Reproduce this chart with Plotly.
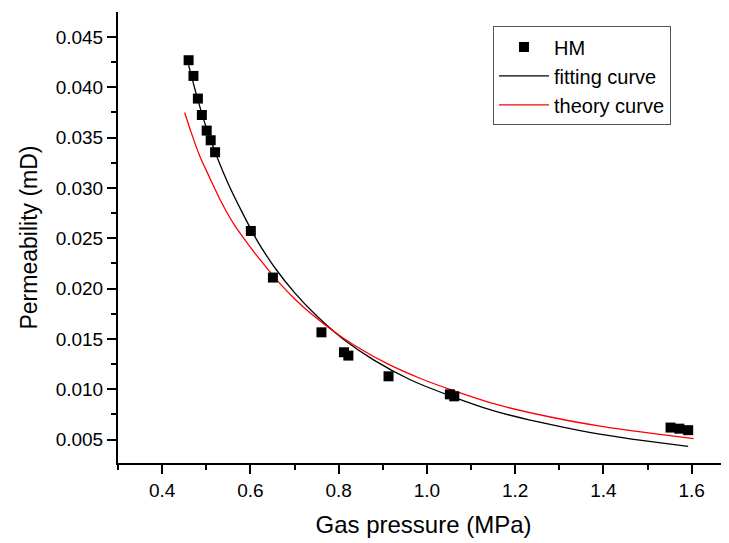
import plotly.graph_objects as go

# Measured data (HM)
hm_x = [0.460, 0.471, 0.481, 0.490, 0.501, 0.510, 0.520, 0.601, 0.651, 0.761,
        0.812, 0.822, 0.913, 1.052, 1.062, 1.552, 1.572, 1.592]
hm_y = [0.04269, 0.04113, 0.03888, 0.03725, 0.0357, 0.03474, 0.03355, 0.02573, 0.0211, 0.01566,
        0.01368, 0.01335, 0.01129, 0.0095, 0.0093, 0.0062, 0.00609, 0.00594]

# Fitting curve
fit_x = [0.460, 0.480, 0.500, 0.525, 0.550, 0.580, 0.615, 0.655, 0.700, 0.750,
         0.810, 0.880, 0.960, 1.050, 1.150, 1.250, 1.350, 1.450, 1.530, 1.592]
fit_y = [0.0422, 0.0389, 0.0360, 0.0330, 0.0304, 0.0277, 0.0248, 0.0221, 0.0196, 0.0173,
         0.0150, 0.0129, 0.0110, 0.0094, 0.00788, 0.00678, 0.00588, 0.00516, 0.00468, 0.00434]

# Theory curve
th_x = [0.451, 0.466, 0.485, 0.508, 0.534, 0.564, 0.595, 0.625, 0.663, 0.700,
        0.735, 0.810, 0.909, 0.984, 1.052, 1.166, 1.302, 1.392, 1.506, 1.604]
th_y = [0.0375, 0.0355, 0.0332, 0.0310, 0.0286, 0.0263, 0.0244, 0.0227, 0.0207, 0.0190,
        0.0176, 0.0151, 0.01257, 0.0111, 0.0100, 0.0084, 0.00705, 0.00635, 0.00565, 0.0051]

x_ticks = [0.4, 0.6, 0.8, 1.0, 1.2, 1.4, 1.6]
y_ticks = [0.005, 0.010, 0.015, 0.020, 0.025, 0.030, 0.035, 0.040, 0.045]

FONT = "Arial, 'Liberation Sans', sans-serif"

fig = go.Figure()
fig.add_trace(go.Scatter(x=fit_x, y=fit_y, mode="lines", name="fitting curve",
                         line=dict(color="black", width=1.3, shape="spline", smoothing=0.8), legendrank=2))
fig.add_trace(go.Scatter(x=th_x, y=th_y, mode="lines", name="theory curve",
                         line=dict(color="red", width=1.3, shape="spline", smoothing=0.8), legendrank=3))
fig.add_trace(go.Scatter(x=hm_x, y=hm_y, mode="markers", name="HM",
                         marker=dict(symbol="square", size=10, color="black"), legendrank=1))

axis_common = dict(
    showline=True, linecolor="black", linewidth=2,
    ticks="outside", ticklen=9, tickwidth=2, tickcolor="black",
    showgrid=False, zeroline=False, mirror=False, automargin=False,
    tickfont=dict(family=FONT, size=19, color="black"),
)

fig.update_xaxes(
    **axis_common,
    range=[0.3, 1.6845],
    tickvals=x_ticks, ticktext=[f"{v:.1f}" for v in x_ticks],
    minor=dict(ticks="outside", ticklen=5, tickwidth=2, tickcolor="black", dtick=0.1, tick0=0.3, showgrid=False),
    title=dict(text="Gas pressure (MPa)", font=dict(family=FONT, size=24, color="black"), standoff=16),
)
fig.update_yaxes(
    **axis_common,
    range=[0.00268, 0.04748],
    tickvals=y_ticks, ticktext=[f"{v:.3f}" for v in y_ticks],
    minor=dict(ticks="outside", ticklen=5, tickwidth=2, tickcolor="black", dtick=0.0025, tick0=0.0025, showgrid=False),
    title=dict(text="Permeability (mD)", font=dict(family=FONT, size=23, color="black"), standoff=12),
)

# page body has an 8px default margin: figure is sized/offset so the chart sits where the reference has it
fig.update_layout(
    width=721, height=535,
    margin=dict(l=110, r=0, t=4, b=80),
    plot_bgcolor="white", paper_bgcolor="white",
    legend=dict(x=0.6137, y=0.968, xanchor="left", yanchor="top",
                bordercolor="#555555", borderwidth=1, bgcolor="white",
                font=dict(family=FONT, size=20, color="black"),
                itemwidth=50, tracegroupgap=0),
    showlegend=True,
)

fig.write_html("out.html")
